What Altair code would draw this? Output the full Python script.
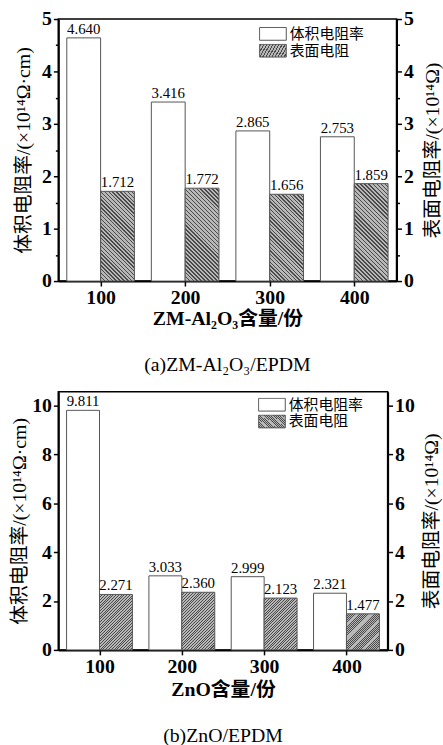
import altair as alt
import pandas as pd

# ---------------- data ----------------
categories = [100, 200, 300, 400]
series_names = ["体积电阻率", "表面电阻"]
vol_a = [4.640, 3.416, 2.865, 2.753]
surf_a = [1.712, 1.772, 1.656, 1.859]
vol_b = [9.811, 3.033, 2.999, 2.321]
surf_b = [2.271, 2.360, 2.123, 1.477]

xtitle_a = "ZM-Al₂O₃含量/份"
xtitle_b = "ZnO含量/份"
caption_a = "(a)ZM-Al₂O₃/EPDM"
caption_b = "(b)ZnO/EPDM"
ytitle_left = "体积电阻率/(×10¹⁴Ω·cm)"
ytitle_right = "表面电阻率/(×10¹⁴Ω)"

SERIF = "Liberation Serif, Noto Sans CJK SC"
CJK = "Noto Sans CJK SC"
HALF = 40  # bar width in x units
XDOM = [50, 450]


def make_df(vol, surf):
    rows = []
    for c, v in zip(categories, vol):
        rows.append({"cat": c, "series": series_names[0], "key": series_names[0], "value": v})
    for c, v in zip(categories, surf):
        rows.append({"cat": c, "series": series_names[1], "key": f"{series_names[1]}-{c}", "value": v})
    return pd.DataFrame(rows)


def hatch(direction, w, h, n=32, dark="#4a4a4a", light="#b8b8b8", frac=3 / 8):
    """Diagonal hatch as a linear gradient in the bar's bounding box."""
    k = (w + h) / (w * w + h * h)
    if direction == "\\":
        x1, y1, x2, y2 = 0, 1, w * k, 1 - h * k
    else:
        x1, y1, x2, y2 = 0, 0, w * k, h * k
    stops = []
    for i in range(n):
        a = i / n
        b = (i + frac) / n
        c = (i + 1) / n
        stops += [(a, dark), (b, dark), (b, light), (c, light)]
    s = ",".join("{offset:%.5f,color:'%s'}" % (o, col) for o, col in stops)
    return "{gradient:'linear',x1:%g,y1:%g,x2:%.5f,y2:%.5f,stops:[%s]}" % (x1, y1, x2, y2, s)


def panel(vol, surf, ymax, yvals, minor, xtitle, caption, direction,
          legend_xy, left_tp, right_tp, width, height, cap_offset, xt_pad):
    df = make_df(vol, surf)
    base = alt.Chart(df).transform_calculate(
        x0=f"datum.series === '{series_names[0]}' ? datum.cat - {HALF} : datum.cat"
    ).transform_calculate(x1=f"datum.x0 + {HALF}", xm=f"datum.x0 + {HALF / 2}")

    xscale = alt.Scale(domain=XDOM, nice=False, zero=False)
    xaxis = alt.Axis(values=categories, title=xtitle, tickSize=5, labelPadding=2,
                     titleFontWeight="bold", titlePadding=xt_pad, labelFlush=False)
    yscale = alt.Scale(domain=[0, ymax], nice=False)

    if minor:
        tick_size = {"condition": {"test": "datum.value % 1 === 0", "value": 5}, "value": 3}
    else:
        tick_size = 5
    lexpr = "datum.value % 1 === 0 ? format(datum.value, 'd') : ''"

    left_axis = alt.Axis(values=yvals, labelExpr=lexpr, tickSize=tick_size, labelPadding=2,
                         title=ytitle_left, titlePadding=left_tp, titleFontWeight="normal",
                         labelFlush=False)
    right_axis = alt.Axis(orient="right", values=yvals, labelExpr=lexpr, tickSize=tick_size,
                          labelPadding=2, title=ytitle_right, titlePadding=right_tp,
                          titleAngle=270, titleBaseline="top", titleFontWeight="normal",
                          labelFlush=False)

    # one hatch gradient per hatched bar, sized from that bar's own pixel box
    bar_w = HALF * width / (XDOM[1] - XDOM[0])
    keys = [series_names[0]] + [f"{series_names[1]}-{c}" for c in categories]
    rng = ["white"] + [{"expr": hatch(direction, bar_w, v * height / ymax)} for v in surf]

    fill = alt.Fill(
        "key:N",
        scale=alt.Scale(domain=keys, range=rng),
        legend=alt.Legend(
            title=None, orient="none", legendX=legend_xy[0], legendY=legend_xy[1],
            values=keys[:2], labelExpr="split(datum.label, '-')[0]",
            symbolType="M-1,-0.48L1,-0.48L1,0.48L-1,0.48Z", symbolSize=729,
            symbolStrokeColor="#555555", symbolStrokeWidth=1,
            labelFont=CJK, labelFontSize=15, labelColor="black", labelOffset=3,
            clipHeight=14, rowPadding=2, padding=0,
        ),
    )

    vol_bars = base.transform_filter(f"datum.series === '{series_names[0]}'").mark_bar(
        stroke="#555555", strokeWidth=1
    ).encode(
        x=alt.X("x0:Q", scale=xscale, axis=xaxis),
        x2="x1:Q",
        y=alt.Y("value:Q", scale=yscale, axis=left_axis),
        y2=alt.datum(0),
        fill=fill,
    )
    surf_bars = base.transform_filter(f"datum.series === '{series_names[1]}'").mark_bar(
        stroke="#555555", strokeWidth=1
    ).encode(
        x=alt.X("x0:Q", scale=xscale, axis=xaxis),
        x2="x1:Q",
        y=alt.Y("value:Q", scale=yscale, axis=right_axis),
        y2=alt.datum(0),
        fill=fill,
    )
    text = base.mark_text(font=SERIF, fontSize=15, baseline="bottom", dy=-1, color="black").encode(
        x=alt.X("xm:Q", scale=xscale, axis=xaxis),
        y=alt.Y("value:Q", scale=yscale, axis=None),
        text=alt.Text("value:Q", format=".3f"),
    )
    return alt.layer(vol_bars, surf_bars, text).resolve_scale(y="independent").properties(
        width=width, height=height,
        title=alt.TitleParams(caption, orient="bottom", font=SERIF, fontSize=20,
                              fontWeight="normal", offset=cap_offset, anchor="middle",
                              frame="group", color="black"),
    )


top = panel(vol_a, surf_a, 5, [i * 0.5 for i in range(11)], True, xtitle_a, caption_a, "\\",
            (203, 8), 8, 9, 342, 265, 27, 1)
bottom = panel(vol_b, surf_b, 10.57, [0, 2, 4, 6, 8, 10], False, xtitle_b, caption_b, "/",
               (202, 6), 2, 7, 333, 261, 27, 3)

chart = alt.vconcat(top, bottom, spacing=15).resolve_scale(
    x="independent", y="independent", fill="independent"
).properties(
    padding={"left": 9, "top": 4, "right": 0, "bottom": 0},
    background="white",
).configure_view(
    stroke="black", strokeWidth=1.5
).configure_axis(
    domainColor="black", domainWidth=2, tickColor="black", tickWidth=1.5,
    labelColor="black", titleColor="black", grid=False,
    labelFont=SERIF, labelFontSize=20, labelFontWeight="bold",
    titleFont=SERIF, titleFontSize=20,
)

chart.save("out.html", embed_options={"renderer": "svg", "actions": False})
